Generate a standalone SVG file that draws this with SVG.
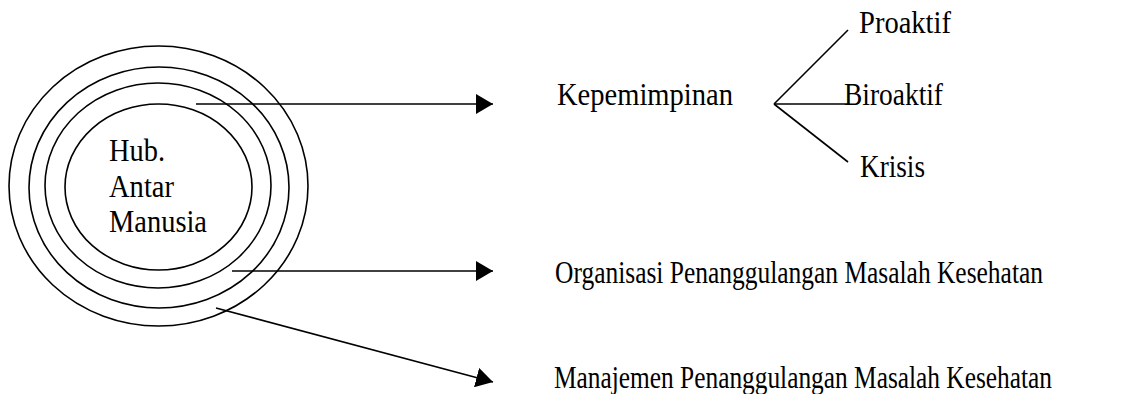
<svg xmlns="http://www.w3.org/2000/svg" width="1135" height="394" viewBox="0 0 1135 394">
<style>
.ring{fill:none;stroke:#000;stroke-width:1.6}
.ln{fill:none;stroke:#000;stroke-width:1.6}
text{font-family:'Liberation Serif','Times New Roman',serif;font-size:31px;fill:#000}
</style>
<defs>
<marker id="ah" markerUnits="userSpaceOnUse" markerWidth="18" markerHeight="20" refX="17" refY="10" orient="auto">
<path d="M0,0 L17,10 L0,20 Z" fill="#000"/>
</marker>
</defs>
<rect width="1135" height="394" fill="#fff"/>
<g id="rings">
<ellipse class="ring" cx="158.5" cy="186" rx="149.5" ry="140"/>
<ellipse class="ring" cx="159" cy="187.5" rx="130" ry="120.5"/>
<ellipse class="ring" cx="158" cy="185.5" rx="113" ry="102.5"/>
<ellipse class="ring" cx="158.5" cy="187" rx="93.5" ry="83"/>
<text x="109" y="161" textLength="56" lengthAdjust="spacingAndGlyphs">Hub.</text>
<text x="109" y="197" textLength="65" lengthAdjust="spacingAndGlyphs">Antar</text>
<text x="109" y="232" textLength="98" lengthAdjust="spacingAndGlyphs">Manusia</text>
</g>
<g id="connectors">
<line class="ln" x1="196" y1="104" x2="493" y2="104" marker-end="url(#ah)"/>
<line class="ln" x1="232" y1="271" x2="493" y2="271" marker-end="url(#ah)"/>
<line class="ln" x1="216" y1="308" x2="493" y2="382" marker-end="url(#ah)"/>
<line class="ln" x1="774" y1="104" x2="848" y2="30"/>
<line class="ln" x1="774" y1="104" x2="848" y2="104"/>
<line class="ln" x1="774" y1="104" x2="848" y2="162"/>
</g>
<g id="kepemimpinan"><text x="557" y="105" textLength="176" lengthAdjust="spacingAndGlyphs">Kepemimpinan</text></g>
<g id="proaktif"><text x="859" y="33" textLength="92" lengthAdjust="spacingAndGlyphs">Proaktif</text></g>
<g id="biroaktif"><text x="844" y="105" textLength="99" lengthAdjust="spacingAndGlyphs">Biroaktif</text></g>
<g id="krisis"><text x="860" y="177" textLength="65" lengthAdjust="spacingAndGlyphs">Krisis</text></g>
<g id="organisasi"><text x="555" y="283" textLength="488" lengthAdjust="spacingAndGlyphs">Organisasi Penanggulangan Masalah Kesehatan</text></g>
<g id="manajemen"><text x="554" y="388" textLength="498" lengthAdjust="spacingAndGlyphs">Manajemen Penanggulangan Masalah Kesehatan</text></g>
</svg>
